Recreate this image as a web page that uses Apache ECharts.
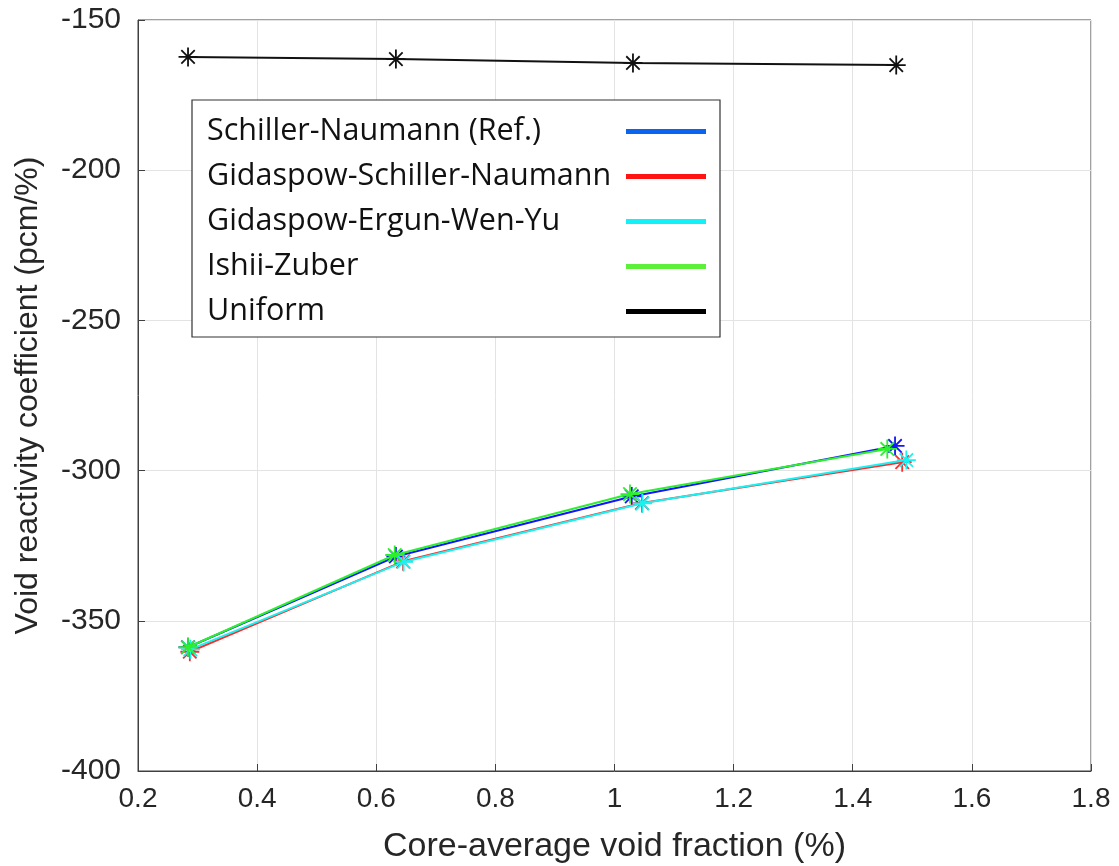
<!DOCTYPE html>
<html>
<head>
<meta charset="utf-8">
<script src="https://cdn.jsdelivr.net/npm/echarts@6/dist/echarts.min.js"></script>
<style>
  html, body { margin: 0; padding: 0; background: #fff; }
  #chart { width: 1119px; height: 866px; }
</style>
</head>
<body>
<div id="chart"></div>
<script>
// Void reactivity coefficient vs. core-average void fraction for several drag models
const seriesNames = [
  'Schiller-Naumann (Ref.)',
  'Gidaspow-Schiller-Naumann',
  'Gidaspow-Ergun-Wen-Yu',
  'Ishii-Zuber',
  'Uniform'
];

// Core-average void fraction (%) per model
const xSchiller   = [0.284, 0.633, 1.029, 1.471];
const xGidSchill  = [0.287, 0.645, 1.046, 1.483];
const xGidErgun   = [0.288, 0.646, 1.047, 1.490];
const xIshiiZuber = [0.284, 0.631, 1.026, 1.458];
const xUniform    = [0.284, 0.633, 1.031, 1.473];

// Void reactivity coefficient (pcm/%) per model
const ySchiller   = [-358.8, -328.6, -308.6, -291.8];
const yGidSchill  = [-360.3, -330.2, -310.8, -297.2];
const yGidErgun   = [-359.5, -330.4, -310.9, -296.5];
const yIshiiZuber = [-358.8, -328.1, -307.8, -292.8];
const yUniform    = [-162.3, -163.0, -164.3, -165.0];

const lineColors   = ['#1414ff', '#ff2a2a', '#19f2f2', '#2cf02c', '#111111'];
const legendColors = ['#0a64f0', '#ff1414', '#12f0f8', '#5cf03a', '#000000'];

const asterisk = 'path://M0,-10L0,10M-10,0L10,0M-7.07,-7.07L7.07,7.07M-7.07,7.07L7.07,-7.07';

function pairs(xs, ys) {
  return xs.map((x, i) => [x, ys[i]]);
}

const allX = [xSchiller, xGidSchill, xGidErgun, xIshiiZuber, xUniform];
const allY = [ySchiller, yGidSchill, yGidErgun, yIshiiZuber, yUniform];

const series = seriesNames.map((name, i) => ({
  name: name,
  type: 'line',
  data: pairs(allX[i], allY[i]),
  symbol: asterisk,
  symbolSize: 19,
  showAllSymbol: true,
  lineStyle: { color: lineColors[i], width: 2 },
  itemStyle: { color: 'none', borderColor: lineColors[i], borderWidth: 1.8 },
  emphasis: { disabled: true },
  z: 2 + i
}));

const axisFont = 'Liberation Sans, Arial, sans-serif';
const textColor = '#262626';

const chart = echarts.init(document.getElementById('chart'), null, { renderer: 'canvas' });
chart.setOption({
  animation: false,
  backgroundColor: '#ffffff',
  grid: {
    left: 138, right: 28, top: 20, bottom: 95,
    outerBoundsMode: 'none',
    containLabel: false,
    show: true, borderColor: '#404040', borderWidth: 1
  },
  xAxis: {
    type: 'value',
    min: 0.2, max: 1.8, interval: 0.2,
    name: 'Core-average void fraction (%)',
    nameLocation: 'middle',
    nameGap: 59,
    nameTextStyle: { fontFamily: axisFont, fontSize: 34, color: textColor },
    axisLine: { show: true, lineStyle: { color: '#404040', width: 1 } },
    axisTick: { show: true, inside: true, length: 7, lineStyle: { color: '#404040' } },
    axisLabel: {
      fontFamily: axisFont, fontSize: 28, color: textColor, margin: 14,
      formatter: v => String(Math.round(v * 10) / 10)
    },
    splitLine: { show: true, lineStyle: { color: '#e3e3e3', width: 1 } }
  },
  yAxis: {
    type: 'value',
    min: -400, max: -150, interval: 50,
    name: 'Void reactivity coefficient (pcm/%)',
    nameLocation: 'middle',
    nameGap: 94,
    nameRotate: 90,
    nameTextStyle: { fontFamily: axisFont, fontSize: 32, color: textColor },
    axisLine: { show: true, lineStyle: { color: '#404040', width: 1 } },
    axisTick: { show: true, inside: true, length: 7, lineStyle: { color: '#404040' } },
    axisLabel: { fontFamily: axisFont, fontSize: 30, color: textColor, margin: 17 },
    splitLine: { show: true, lineStyle: { color: '#e3e3e3', width: 1 } }
  },
  legend: {
    left: 192, top: 100,
    orient: 'vertical',
    align: 'right',
    icon: 'rect',
    itemWidth: 80, itemHeight: 5,
    itemGap: 14,
    padding: [16, 14, 10, 15],
    borderColor: '#333333', borderWidth: 1.2,
    backgroundColor: '#ffffff',
    selectedMode: false,
    formatter: name => '{t|' + name + '}',
    textStyle: {
      rich: {
        t: {
          width: 414, align: 'left',
          fontFamily: 'Open Sans, sans-serif', fontSize: 30.5,
          lineHeight: 30, color: '#111111'
        }
      }
    },
    data: seriesNames.map((n, i) => ({
      name: n,
      itemStyle: { color: legendColors[i], borderWidth: 0 }
    }))
  },
  series: series
});
</script>
</body>
</html>
